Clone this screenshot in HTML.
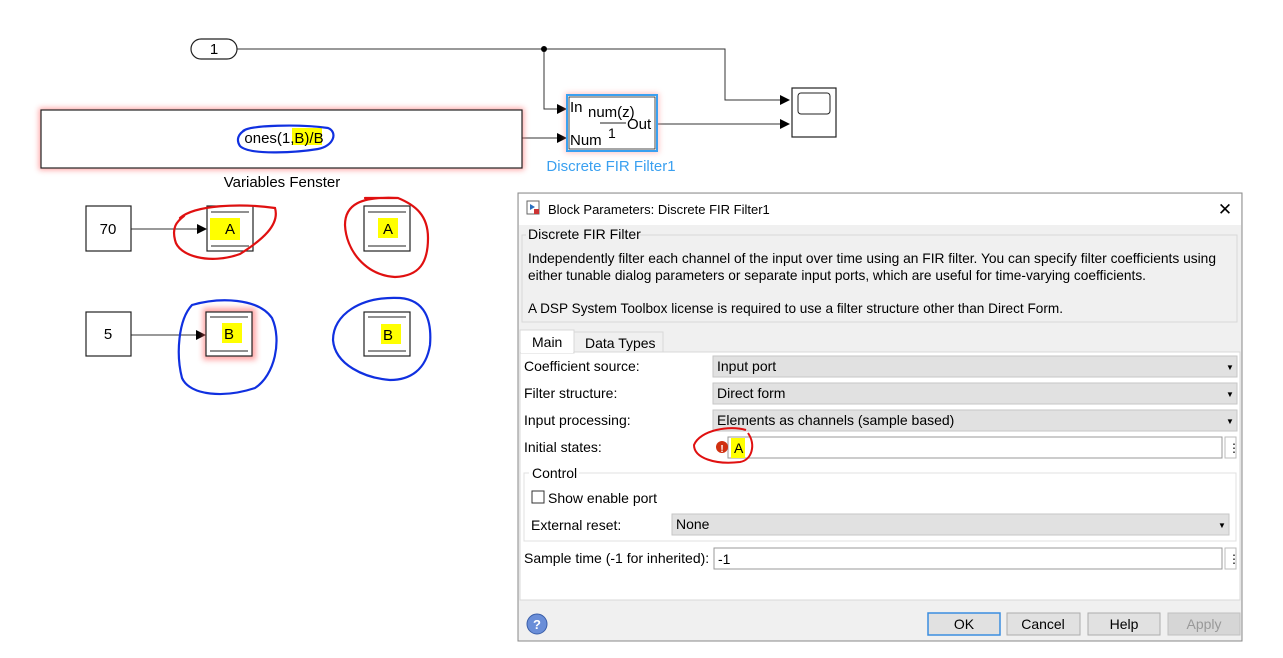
<!DOCTYPE html>
<html><head><meta charset="utf-8"><style>
html,body{margin:0;padding:0;background:#fff;width:1283px;height:658px;overflow:hidden}
svg{display:block;font-family:"Liberation Sans",sans-serif}
</style></head><body>
<svg width="1283" height="658" viewBox="0 0 1283 658" xmlns="http://www.w3.org/2000/svg">
<defs>
<filter id="rg" x="-10%" y="-30%" width="120%" height="160%"><feGaussianBlur stdDeviation="3"/></filter>
<marker id="ar" markerWidth="10" markerHeight="10" refX="9" refY="5" orient="auto" markerUnits="userSpaceOnUse"><path d="M0,0 L10,5 L0,10z" fill="#000"/></marker>
</defs>
<g stroke="#333" stroke-width="1" fill="none">
<path d="M237,49 H725 V100 H789" marker-end="url(#ar)"/>
<path d="M544,49 V109 H566" marker-end="url(#ar)"/>
<path d="M522,138 H566" marker-end="url(#ar)"/>
<path d="M657,124 H789" marker-end="url(#ar)"/>
<path d="M131,229 H206" marker-end="url(#ar)"/>
<path d="M131,335 H205" marker-end="url(#ar)"/>
</g>
<circle cx="544" cy="49" r="3" fill="#000"/>
<rect x="191" y="39" width="46" height="20" rx="10" fill="#fff" stroke="#222" stroke-width="1.2"/>
<text x="214" y="54" font-size="15" text-anchor="middle">1</text>
<rect x="39" y="108" width="485" height="62" fill="#f66" filter="url(#rg)" opacity="0.6"/>
<rect x="41" y="110" width="481" height="58" fill="#fff" stroke="#222" stroke-width="1.2"/>
<rect x="292" y="128" width="30" height="17" fill="#ff0"/>
<text x="284" y="143" font-size="15" text-anchor="middle">ones(1,B)/B</text>
<path d="M243,131 C250,125 300,124 328,128 C338,132 334,146 318,149 C300,152 250,156 240,146 C236,140 238,134 245,130" stroke="#1030e0" stroke-width="2.2" fill="none"/>
<text x="282" y="187" font-size="15" text-anchor="middle">Variables Fenster</text>
<rect x="565" y="93" width="94" height="60" fill="#f88" filter="url(#rg)" opacity="0.5"/>
<rect x="567" y="95" width="90" height="56" fill="#fff" stroke="#3aa0f0" stroke-width="2"/>
<rect x="569" y="97" width="86" height="52" fill="none" stroke="#222" stroke-width="0.8"/>
<text x="570" y="112" font-size="15">In</text>
<text x="570" y="145" font-size="15">Num</text>
<text x="588" y="117" font-size="15">num(z)</text>
<line x1="600" y1="123" x2="626" y2="123" stroke="#222"/>
<text x="608" y="138" font-size="14">1</text>
<text x="627" y="129" font-size="15">Out</text>
<text x="611" y="171" font-size="15" fill="#3aa0f0" text-anchor="middle">Discrete FIR Filter1</text>
<rect x="792" y="88" width="44" height="49" fill="#fff" stroke="#222" stroke-width="1.2"/>
<rect x="798" y="93" width="32" height="21" rx="3" fill="#fff" stroke="#222"/>
<rect x="86" y="206" width="45" height="45" fill="#fff" stroke="#222" stroke-width="1.2"/>
<text x="108" y="234" font-size="15" text-anchor="middle">70</text>
<rect x="86" y="312" width="45" height="44" fill="#fff" stroke="#222" stroke-width="1.2"/>
<text x="108" y="339" font-size="15" text-anchor="middle">5</text>
<g stroke="#222">
<rect x="207" y="206" width="46" height="45" fill="#fff" stroke-width="1.2"/>
<line x1="211" y1="212" x2="249" y2="212"/><line x1="211" y1="246" x2="249" y2="246"/>
<rect x="364" y="206" width="46" height="45" fill="#fff" stroke-width="1.2"/>
<line x1="368" y1="212" x2="406" y2="212"/><line x1="368" y1="246" x2="406" y2="246"/>
<rect x="203" y="308" width="53" height="52" fill="#f66" filter="url(#rg)" opacity="0.6" stroke="none"/>
<rect x="206" y="312" width="46" height="44" fill="#fff" stroke-width="1.2"/>
<line x1="210" y1="317" x2="248" y2="317"/><line x1="210" y1="351" x2="248" y2="351"/>
<rect x="364" y="312" width="46" height="44" fill="#fff" stroke-width="1.2"/>
<line x1="368" y1="317" x2="406" y2="317"/><line x1="368" y1="351" x2="406" y2="351"/>
</g>
<rect x="210" y="218" width="30" height="22" fill="#ff0"/><text x="230" y="234" font-size="15" text-anchor="middle">A</text>
<rect x="378" y="218" width="20" height="20" fill="#ff0"/><text x="388" y="234" font-size="15" text-anchor="middle">A</text>
<rect x="222" y="323" width="20" height="20" fill="#ff0"/><text x="229" y="339" font-size="15" text-anchor="middle">B</text>
<rect x="381" y="324" width="20" height="20" fill="#ff0"/><text x="388" y="340" font-size="15" text-anchor="middle">B</text>
<g fill="none" stroke-width="2.2" stroke-linecap="round">
<path d="M180,218 C195,205 240,203 275,208 C280,225 262,240 240,254 C210,265 178,256 175,240 C172,228 176,222 184,216" stroke="#e01010"/>
<path d="M398,198 C360,196 345,205 345,225 C346,250 365,275 395,277 C420,276 428,262 428,238 C428,215 415,205 398,198 M398,198 L365,198" stroke="#e01010"/>
<path d="M192,305 C220,297 258,298 272,318 C282,340 275,375 255,388 C225,398 190,396 182,378 C176,355 178,320 192,305" stroke="#1030e0"/>
<path d="M400,298 C425,300 432,320 430,345 C426,370 410,380 390,380 C365,378 335,365 333,340 C333,315 360,296 400,298" stroke="#1030e0"/>
</g>
<rect x="518" y="193" width="724" height="448" fill="#f0f0f0" stroke="#888"/>
<rect x="519" y="194" width="722" height="31" fill="#fff"/>
<rect x="527" y="201" width="12" height="13" fill="#fff" stroke="#666"/>
<path d="M530,204 l5,3 l-5,3z" fill="#2a70c0"/><rect x="534" y="209" width="5" height="5" fill="#c33"/>
<text x="548" y="214" font-size="13">Block Parameters: Discrete FIR Filter1</text>
<text x="1225" y="215" font-size="17" text-anchor="middle">✕</text>
<rect x="522" y="235" width="715" height="87" fill="#f0f0f0" stroke="#d8d8d8"/>
<rect x="526" y="229" width="114" height="12" fill="#f0f0f0"/>
<text x="528" y="239" font-size="14">Discrete FIR Filter</text>
<text x="528" y="263" font-size="14" textLength="688" lengthAdjust="spacingAndGlyphs">Independently filter each channel of the input over time using an FIR filter. You can specify filter coefficients using</text>
<text x="528" y="280" font-size="14" textLength="618" lengthAdjust="spacingAndGlyphs">either tunable dialog parameters or separate input ports, which are useful for time-varying coefficients.</text>
<text x="528" y="313" font-size="14" textLength="535" lengthAdjust="spacingAndGlyphs">A DSP System Toolbox license is required to use a filter structure other than Direct Form.</text>
<rect x="520" y="352" width="720" height="248" fill="#fff" stroke="#d8d8d8"/>
<rect x="520" y="330" width="54" height="23" fill="#fff" stroke="#d8d8d8"/>
<line x1="521" y1="352" x2="573" y2="352" stroke="#fff" stroke-width="2"/>
<rect x="574" y="332" width="89" height="20" fill="#f0f0f0" stroke="#d8d8d8"/>
<text x="532" y="347" font-size="14">Main</text>
<text x="585" y="348" font-size="14">Data Types</text>
<g font-size="14">
<text x="524" y="371">Coefficient source:</text>
<text x="524" y="398">Filter structure:</text>
<text x="524" y="425">Input processing:</text>
<text x="524" y="452">Initial states:</text>
<text x="524" y="563">Sample time (-1 for inherited):</text>
</g>
<g fill="#e1e1e1" stroke="#c6c6c6">
<rect x="713" y="356" width="524" height="21"/>
<rect x="713" y="383" width="524" height="21"/>
<rect x="713" y="410" width="524" height="21"/>
</g>
<g font-size="14">
<text x="717" y="371">Input port</text>
<text x="717" y="398">Direct form</text>
<text x="717" y="425">Elements as channels (sample based)</text>
</g>
<rect x="728" y="437" width="494" height="21" fill="#fff" stroke="#999"/>
<rect x="1225" y="437" width="11" height="21" fill="#fff" stroke="#bbb"/>
<text x="1228" y="452" font-size="12">⋮</text>
<circle cx="722" cy="447" r="6" fill="#d03010"/><text x="722" y="452" font-size="10" fill="#fff" text-anchor="middle" font-weight="bold">!</text>
<rect x="731" y="438" width="14" height="20" fill="#ff0"/>
<text x="734" y="453" font-size="14">A</text>
<path d="M746,430 C730,425 700,430 694,445 C694,458 715,465 740,462 C752,460 756,445 748,433" fill="none" stroke="#e01010" stroke-width="2"/>
<rect x="524" y="473" width="712" height="68" fill="none" stroke="#e0e0e0"/>
<rect x="529" y="466" width="50" height="12" fill="#fff"/>
<text x="532" y="478" font-size="14">Control</text>
<rect x="532" y="491" width="12" height="12" fill="#fff" stroke="#333"/>
<text x="548" y="503" font-size="14">Show enable port</text>
<text x="531" y="530" font-size="14">External reset:</text>
<rect x="672" y="514" width="557" height="21" fill="#e1e1e1" stroke="#c6c6c6"/>
<text x="676" y="529" font-size="14">None</text>
<g font-size="8"><text x="1226" y="370">▼</text><text x="1226" y="397">▼</text><text x="1226" y="424">▼</text><text x="1218" y="528">▼</text></g>
<rect x="714" y="548" width="508" height="21" fill="#fff" stroke="#999"/>
<text x="718" y="564" font-size="14">-1</text>
<rect x="1225" y="548" width="11" height="21" fill="#fff" stroke="#bbb"/>
<text x="1228" y="563" font-size="12">⋮</text>
<circle cx="537" cy="624" r="10" fill="#6a8ed8" stroke="#3a5ea8"/>
<text x="537" y="629" font-size="13" fill="#fff" text-anchor="middle" font-weight="bold">?</text>
<rect x="928" y="613" width="72" height="22" fill="#e1e1e1" stroke="#3a8ee0" stroke-width="1.5"/>
<rect x="1007" y="613" width="73" height="22" fill="#e1e1e1" stroke="#adadad"/>
<rect x="1088" y="613" width="72" height="22" fill="#e1e1e1" stroke="#adadad"/>
<rect x="1168" y="613" width="72" height="22" fill="#d6d6d6" stroke="#c0c0c0"/>
<g font-size="14" text-anchor="middle">
<text x="964" y="629">OK</text><text x="1043" y="629">Cancel</text><text x="1124" y="629">Help</text><text x="1204" y="629" fill="#999">Apply</text>
</g>
</svg>
</body></html>
